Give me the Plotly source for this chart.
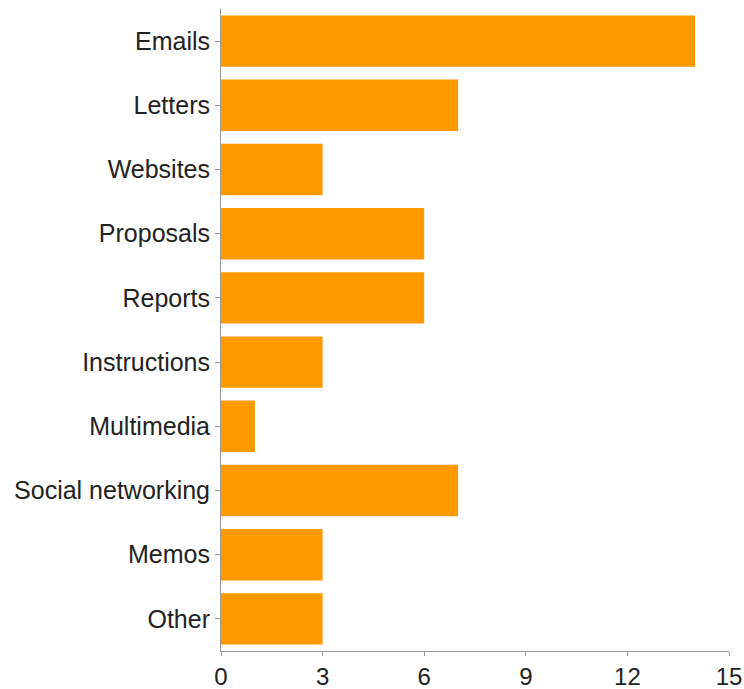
import plotly.graph_objects as go

categories = ["Emails", "Letters", "Websites", "Proposals", "Reports",
              "Instructions", "Multimedia", "Social networking", "Memos", "Other"]
values = [14, 7, 3, 6, 6, 3, 1, 7, 3, 3]
x_ticks = [0, 3, 6, 9, 12, 15]

fig = go.Figure(go.Bar(
    x=values, y=categories, orientation="h",
    marker=dict(color="#FF9900", line=dict(width=0)),
))

fig.update_layout(
    width=744, height=689,
    margin=dict(l=221, r=15, t=9, b=38),
    paper_bgcolor="white", plot_bgcolor="white",
    bargap=0.2,
    font=dict(family="Liberation Sans, Arial, sans-serif", size=25, color="#222222"),
    showlegend=False,
)
fig.update_xaxes(
    range=[0, 15], tickvals=x_ticks, showgrid=False, zeroline=False,
    showline=True, linecolor="#999999", linewidth=1, automargin=False,
    ticks="outside", ticklen=4, tickcolor="#999999", tickfont=dict(size=24),
)
fig.update_yaxes(
    categoryorder="array", categoryarray=categories, autorange="reversed",
    showgrid=False, zeroline=False, showline=True, linecolor="#999999", linewidth=1,
    ticks="outside", ticklen=5, tickcolor="#999999", automargin=False,
)

fig.write_html(
    "out.html",
    config={"displayModeBar": False},
    post_script="document.body.style.margin='0';document.body.style.overflow='hidden';",
)
